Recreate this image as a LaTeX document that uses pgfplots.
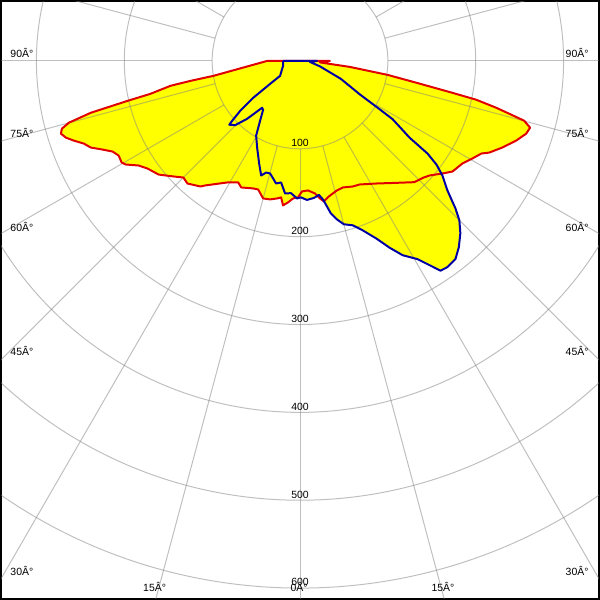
\documentclass[border=0pt]{standalone}
\usepackage{pgfplots}
\pgfplotsset{compat=1.18}
\usepackage{pgfplotstable}
\usepackage{fontspec}
\setmainfont{Liberation Sans}
\definecolor{cred}{RGB}{225,0,0}
\definecolor{cblue}{RGB}{0,0,165}
\definecolor{cyel}{RGB}{255,255,0}

% C0-C180 plane (red), horizontal / vertical components in cd
\pgfplotstableread{
x y
-37.4 0
-98.6 -17.0
-124.7 -22.7
-147.4 -28.3
-170.1 -37.4
-196.1 -45.4
-238.1 -59.0
-263.0 -70.3
-271.0 -77.1
-272.1 -82.8
-266.4 -87.3
-257.4 -90.7
-246.0 -94.1
-238.1 -98.6
-224.5 -100.9
-213.2 -103.2
-206.4 -107.7
-203.0 -115.6
-198.4 -117.9
-183.7 -119.0
-173.5 -122.5
-161.0 -129.3
-144.0 -131.5
-132.7 -132.7
-128.1 -139.5
-113.4 -142.9
-107.7 -141.7
-82.8 -138.3
-70.3 -138.3
-66.9 -144.0
-53.3 -145.1
-47.6 -146.3
-42.0 -156.5
-34.0 -157.6
-26.1 -156.5
-21.5 -155.3
-19.3 -164.4
-13.6 -161.0
-7.9 -156.5
-2.3 -155.3
2.3 -148.5
9.1 -147.4
17.0 -150.8
22.7 -156.5
27.2 -159.9
32.9 -154.2
42.0 -147.4
48.8 -144.0
60.1 -142.9
68.0 -140.6
87.3 -139.5
105.4 -138.9
130.0 -138.0
140.0 -133.0
147.4 -130.4
162.1 -128.1
173.5 -125.9
184.8 -116.8
196.1 -111.1
206.4 -105.4
215.4 -104.3
230.2 -98.6
246.0 -90.7
257.4 -82.8
261.9 -76.0
255.1 -68.0
238.1 -60.1
223.4 -53.3
200.7 -44.2
173.5 -36.3
132.7 -24.9
99.8 -15.9
56.7 -6.8
22.7 -1.7
34.0 0
-37.4 0
}\redtab

% C90-C270 plane (blue)
\pgfplotstableread{
x y
-19.3 0
-19.3 -5.7
-22.7 -17.0
-34.0 -26.1
-53.3 -42.0
-68.0 -56.7
-77.1 -68.0
-80.5 -72.6
-73.7 -73.1
-60.1 -65.8
-43.1 -53.3
-42.0 -55.6
-45.4 -68.0
-49.9 -85.0
-48.8 -98.6
-46.5 -116.8
-44.2 -130.4
-38.5 -127.0
-34.0 -128.1
-30.6 -133.8
-27.2 -139.5
-21.5 -138.3
-17.0 -150.8
-10.2 -150.5
-3.4 -156.5
1.1 -155.3
7.9 -158.2
15.9 -155.9
21.5 -152.5
26.1 -157.6
30.6 -165.5
35.1 -173.5
42.0 -180.3
49.9 -185.9
60.1 -187.1
70.3 -192.2
87.3 -202.4
102.0 -212.6
116.8 -221.1
133.8 -225.6
144.0 -230.7
159.9 -238.7
167.8 -234.7
176.9 -225.6
180.8 -212.0
182.5 -196.1
181.4 -181.4
176.9 -167.8
167.8 -147.4
162.1 -130.4
155.3 -117.9
145.1 -105.4
124.7 -87.3
105.4 -66.3
88.4 -53.3
68.0 -38.0
46.5 -20.4
22.7 -6.2
11.3 -1.1
19.3 0
-19.3 0
}\bluetab

\begin{document}
\begin{tikzpicture}[lab/.style={inner sep=0pt, font=\fontsize{5.25pt}{6pt}\selectfont},
  gridline/.style={draw=black!50, opacity=0.5, line width=0.5pt}]
\begin{axis}[
  scale only axis, width=300pt, height=300pt,
  xmin=-340.1, xmax=340.1, ymin=-612.2, ymax=68,
  xtick=\empty, ytick=\empty,
  axis line style={line width=1.2pt, black},
  clip mode=global,
]
\addplot[draw=none, fill=cyel] table {\redtab};
\addplot[draw=none, fill=cyel] table {\bluetab};
\pgfplotsinvokeforeach{100,200,...,600}{
  \draw[gridline] (axis cs:0,0) circle[radius=#1];
}
\pgfplotsinvokeforeach{0,15,...,345}{
  \draw[gridline] (axis cs:{100*cos(#1)},{100*sin(#1)}) -- (axis cs:{800*cos(#1)},{800*sin(#1)});
}
\addplot[draw=cred, line width=1pt, line join=round] table {\redtab};
\addplot[draw=cblue, line width=1pt, line join=round] table {\bluetab};
% radial labels
\node[lab, anchor=base] at (axis cs:0,-97.5) {100};
\node[lab, anchor=base] at (axis cs:0,-197.5) {200};
\node[lab, anchor=base] at (axis cs:0,-297.5) {300};
\node[lab, anchor=base] at (axis cs:0,-397.5) {400};
\node[lab, anchor=base] at (axis cs:0,-497.5) {500};
\node[lab, anchor=base] at (axis cs:0,-597.5) {600};
% angle labels, left
\node[lab, anchor=base west] at (axis cs:-330,3.5) {90Â°};
\node[lab, anchor=base west] at (axis cs:-330,-87.0) {75Â°};
\node[lab, anchor=base west] at (axis cs:-330,-193.6) {60Â°};
\node[lab, anchor=base west] at (axis cs:-330,-335.3) {45Â°};
\node[lab, anchor=base west] at (axis cs:-330,-585.9) {30Â°};
% angle labels, right
\node[lab, anchor=base east] at (axis cs:328.8,3.5) {90Â°};
\node[lab, anchor=base east] at (axis cs:328.8,-87.0) {75Â°};
\node[lab, anchor=base east] at (axis cs:328.8,-193.6) {60Â°};
\node[lab, anchor=base east] at (axis cs:328.8,-335.3) {45Â°};
\node[lab, anchor=base east] at (axis cs:328.8,-585.9) {30Â°};
% angle labels, bottom
\node[lab, anchor=base] at (axis cs:-165.5,-604) {15Â°};
\node[lab, anchor=base] at (axis cs:-1,-604) {0Â°};
\node[lab, anchor=base] at (axis cs:162.7,-604) {15Â°};
\end{axis}
\end{tikzpicture}
\end{document}
